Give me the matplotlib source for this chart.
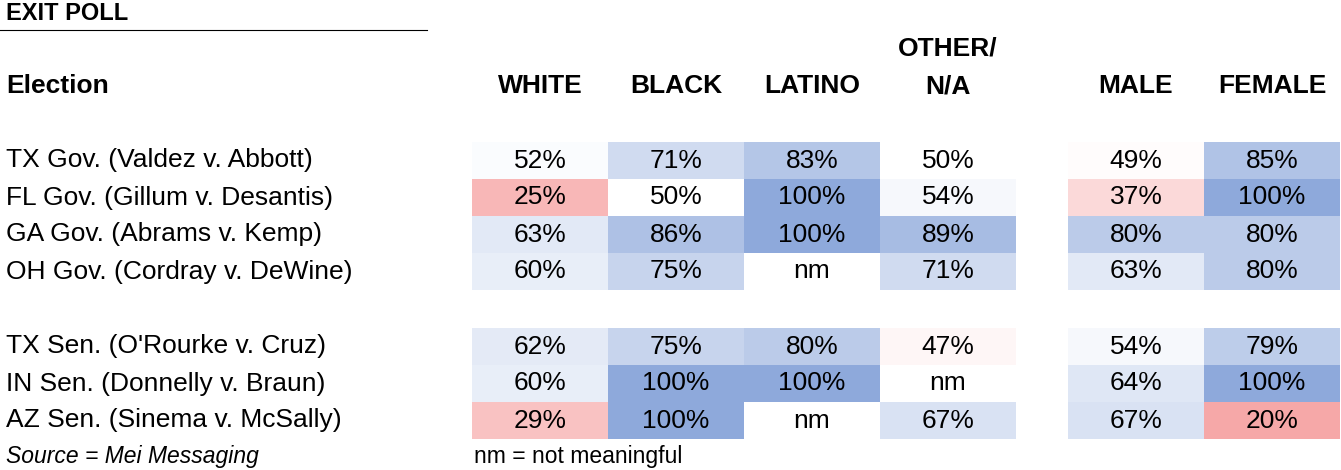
import matplotlib.pyplot as plt
from matplotlib.patches import Rectangle
import numpy as np

plt.rcParams['font.family'] = ['Liberation Sans', 'DejaVu Sans']

columns = ["WHITE", "BLACK", "LATINO", "OTHER/\nN/A", "MALE", "FEMALE"]
elections = ["TX Gov. (Valdez v. Abbott)", "FL Gov. (Gillum v. Desantis)",
             "GA Gov. (Abrams v. Kemp)", "OH Gov. (Cordray v. DeWine)",
             "TX Sen. (O'Rourke v. Cruz)", "IN Sen. (Donnelly v. Braun)",
             "AZ Sen. (Sinema v. McSally)"]
# None = not meaningful
values = [
    [52, 71, 83, 50, 49, 85],
    [25, 50, 100, 54, 37, 100],
    [63, 86, 100, 89, 80, 80],
    [60, 75, None, 71, 63, 80],
    [62, 75, 80, 47, 54, 79],
    [60, 100, 100, None, 64, 100],
    [29, 100, None, 67, 67, 20],
]

col_x = [472, 608, 744, 880, 1068, 1204]
col_w = 136
row_y = [142, 179, 216, 253, 328, 365, 402]
row_h = 37

white = np.array([255, 255, 255]) / 255
blue = np.array([142, 169, 219]) / 255
red = np.array([240, 110, 110]) / 255


def cell_color(v):
    if v >= 50:
        t = (v - 50) / 50
        return white + (blue - white) * t
    t = (50 - v) / 50
    return white + (red - white) * t


fig = plt.figure(figsize=(13.41, 4.70), dpi=100)
ax = fig.add_axes([0, 0, 1, 1])
ax.set_xlim(0, 1341)
ax.set_ylim(470, 0)
ax.axis('off')

ax.text(6, 13, "EXIT POLL", fontsize=17, fontweight='bold', va='center')
ax.plot([0, 427], [30, 30], color='black', lw=0.8)
ax.text(6, 86, "Election", fontsize=19, fontweight='bold', va='center')

for j, c in enumerate(columns):
    x = col_x[j] + col_w / 2
    if '\n' in c:
        top, bot = c.split('\n')
        ax.text(x, 48, top, fontsize=19, fontweight='bold', ha='center', va='center')
        ax.text(x, 86, bot, fontsize=19, fontweight='bold', ha='center', va='center')
    else:
        ax.text(x, 86, c, fontsize=19, fontweight='bold', ha='center', va='center')

for i, name in enumerate(elections):
    yc = row_y[i] + row_h / 2
    ax.text(6, yc, name, fontsize=19, va='center')
    for j, v in enumerate(values[i]):
        if v is None:
            ax.text(col_x[j] + col_w / 2, yc, "nm", fontsize=19, ha='center', va='center')
            continue
        ax.add_patch(Rectangle((col_x[j], row_y[i]), col_w, row_h,
                               facecolor=cell_color(v), edgecolor='none'))
        ax.text(col_x[j] + col_w / 2, yc, f"{v}%", fontsize=19, ha='center', va='center')

ax.text(6, 457, "Source = Mei Messaging", fontsize=16.5, style='italic', va='center')
ax.text(474, 457, "nm = not meaningful", fontsize=16.5, va='center')

fig.savefig("out.png", dpi=100)
